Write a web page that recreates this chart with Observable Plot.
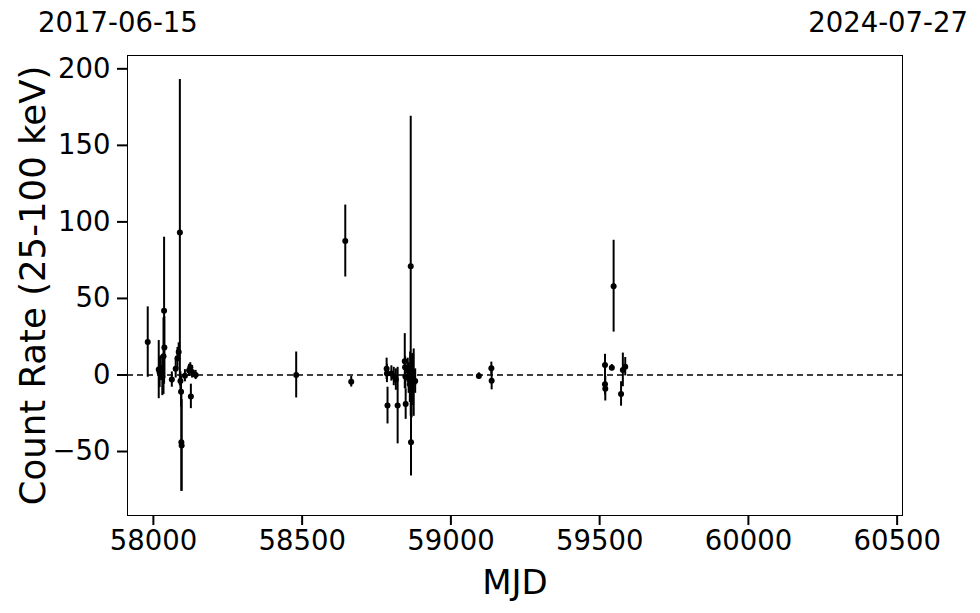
<!DOCTYPE html>
<html>
<head>
<meta charset="utf-8">
<script src="https://cdn.jsdelivr.net/npm/d3@7"></script>
<script src="https://cdn.jsdelivr.net/npm/@observablehq/plot@0.6"></script>
<style>
  html, body { margin: 0; padding: 0; background: #fff; }
  #wrap { position: relative; width: 980px; height: 613px; font-family: "DejaVu Sans", sans-serif; }
  .date { position: absolute; top: 2px; font-size: 27.5px; line-height: 40px; color: #000; white-space: nowrap; }
</style>
</head>
<body>
<div id="wrap">
  <div class="date" id="dLeft" style="left:38px;">2017-06-15</div>
  <div class="date" id="dRight" style="right:12px;">2024-07-27</div>
</div>
<script>
// Observations (MJD), count rate (25-100 keV) and 1-sigma error
const mjd  = [57981, 58018, 58021, 58024, 58030, 58034, 58036, 58037, 58062, 58075, 58081, 58085, 58089, 58091, 58093, 58094, 58095, 58106, 58120, 58124, 58126, 58130, 58142,
              58480, 58645, 58665,
              58784, 58785, 58787, 58800, 58808, 58815, 58821, 58845, 58846, 58847, 58848, 58855, 58858, 58862, 58863, 58865, 58866, 58868, 58870, 58873, 58875, 58880,
              59094, 59136, 59137,
              59518, 59518, 59519, 59541, 59547, 59572, 59578, 59586];
const rate = [21.5, 3.5, 1.8, 4.5, -1.5, 12.3, 42, 18, -3, 4, 11, 15, 93, -4, -11, -44, -46, -0.5, 3, 5, -14, 2, 0,
              0, 87.5, -4.4,
              4, 1, -20, 1, -1, -3, -20, 9, 5, -1, -19, 3, -2, -6, 0, 71, -44, -8, 2, -3, -5, -4,
              -0.6, 4.4, -3.7,
              6.5, -6, -9, 4.8, 58, -12.4, 3.3, 5.4];
const err  = [23, 19, 10, 8, 12, 25, 48, 20, 5, 6, 7, 6, 100, 6, 10, 32, 30, 4, 4, 3, 8, 4, 3,
              15, 23.5, 3.5,
              7, 6, 12, 5, 6, 7, 25, 18, 7, 8, 10, 8, 10, 12, 15, 98, 22, 20, 12, 17, 22, 8,
              2, 4, 6,
              7, 7, 8, 2, 30, 8, 11, 6];

const xTicks = [58000, 58500, 59000, 59500, 60000, 60500];
const yTicks = [-50, 0, 50, 100, 150, 200];

const data = mjd.map((m, i) => ({mjd: m, rate: rate[i], err: err[i]}));

const chart = Plot.plot({
  width: 980,
  height: 613,
  marginLeft: 127,
  marginRight: 78,
  marginTop: 55,
  marginBottom: 98,
  style: {fontFamily: "DejaVu Sans, sans-serif", color: "#000", background: "transparent", overflow: "visible"},
  x: {domain: [57913, 60518], ticks: xTicks, tickFormat: d3.format("d")},
  y: {domain: [-91.8, 208.7], ticks: yTicks},
  marks: [
    Plot.ruleY([0], {stroke: "#000", strokeWidth: 1.5, strokeDasharray: "6,4"}),
    Plot.ruleX(data, {x: "mjd", y1: d => d.rate - d.err, y2: d => d.rate + d.err, stroke: "#000", strokeWidth: 2}),
    Plot.dot(data, {x: "mjd", y: "rate", r: 3, fill: "#000", stroke: "none"}),
    Plot.frame({stroke: "#000", strokeWidth: 1}),
    Plot.axisX({ticks: xTicks, tickFormat: d3.format("d"), tickSize: 10, tickPadding: 5, strokeWidth: 2, fontSize: 27.5, label: null}),
    Plot.axisY({ticks: yTicks, tickSize: 10, tickPadding: 7, strokeWidth: 2, fontSize: 27.5, label: null}),
    Plot.text(["MJD"], {frameAnchor: "bottom", lineAnchor: "middle", dy: 68, fontSize: 34, fill: "#000"}),
    Plot.text(["Count Rate (25-100 keV)"], {frameAnchor: "left", textAnchor: "middle", lineAnchor: "middle", dx: -94, rotate: -90, fontSize: 35.5, fill: "#000"})
  ]
});
chart.style.position = "absolute";
chart.style.left = "0px";
chart.style.top = "0px";
document.getElementById("wrap").prepend(chart);
</script>
</body>
</html>
